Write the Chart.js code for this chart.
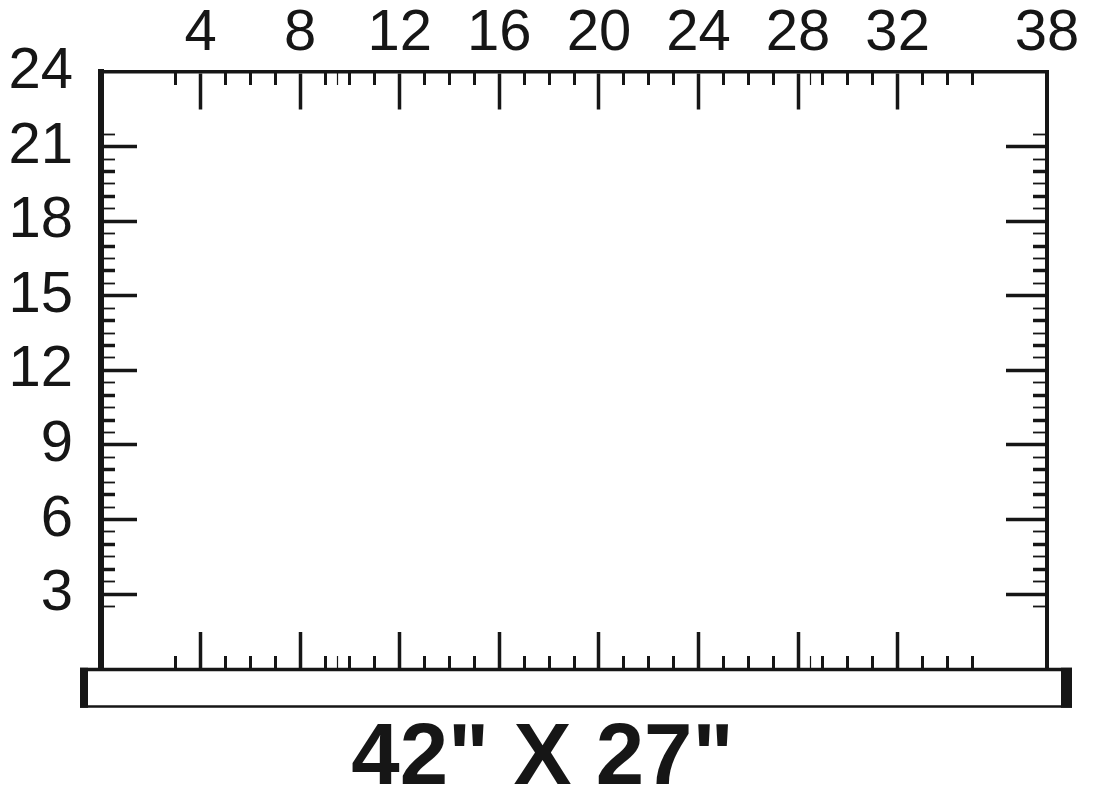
<!DOCTYPE html>
<html>
<head>
<meta charset="utf-8">
<script src="https://cdn.jsdelivr.net/npm/chart.js@4/dist/chart.umd.min.js"></script>
<style>
  html, body { margin: 0; padding: 0; background: #fff; }
</style>
</head>
<body>
<canvas id="frameChart" width="1095" height="793"></canvas>
<script>
// ruler range (inches)
const xMin = 0, xMax = 38;
const yMin = 0, yMax = 24;

// labelled ticks
const xLabelTicks = [4, 8, 12, 16, 20, 24, 28, 32, 38];
const yLabelTicks = [3, 6, 9, 12, 15, 18, 21, 24];

// tick marks
const xMajorTicks = [4, 8, 12, 16, 20, 24, 28, 32];
const xMinorTicks = [3, 5, 6, 7, 9, 9.5, 10, 11, 13, 14, 15, 17, 18, 19, 21, 22, 23,
                     25, 26, 27, 28.5, 29, 30, 31, 33, 34, 35];
const yMajorTicks = [3, 6, 9, 12, 15, 18, 21];
const yMinorTicks = [2.5, 3.5, 4, 4.5, 5, 5.5, 6.5, 7, 7.5, 8, 8.5, 9.5, 10, 10.5, 11, 11.5,
                     12.5, 13, 13.5, 14, 14.5, 15.5, 16, 16.5, 17, 17.5, 18.5, 19, 19.5,
                     20, 20.5, 21.5];

const sizeLabel = '42" X 27"';

const ink = '#161616';
const fontFamily = '"Liberation Sans", Arial, sans-serif';

// a scale that only draws tick marks at the given values
function markScale(axis, values, position, length, width, border) {
    return {
        type: 'linear',
        axis: axis,
        min: axis === 'x' ? xMin : yMin,
        max: axis === 'x' ? xMax : yMax,
        position: position,
        afterBuildTicks: s => { s.ticks = values.map(v => ({ value: v })); },
        ticks: { display: false, autoSkip: false },
        grid: {
            drawOnChartArea: false,
            drawTicks: true,
            tickLength: length,
            tickWidth: width,
            tickColor: ink
        },
        border: border ? { display: true, width: border, color: ink } : { display: false }
    };
}

// integer ticks heavier than the half / odd ones
const minorWidthX = ctx => (ctx.tick && ctx.tick.value % 1 === 0) ? 3 : 1.2;
const minorWidthY = ctx => (ctx.tick && ctx.tick.value % 1 === 0) ? 3.5 : 1.8;

// base plate under the frame
const basePlate = {
    id: 'basePlate',
    afterDraw(chart) {
        const { ctx, chartArea: a } = chart;
        const L = a.left - 21, R = a.right + 25, T = a.bottom - 1, B = a.bottom + 39;
        ctx.save();
        ctx.fillStyle = ink;
        ctx.fillRect(L, T, R - L, 3.5);
        ctx.fillRect(L, B - 2.5, R - L, 2.5);
        ctx.fillRect(L, T, 8, B - T);
        ctx.fillRect(R - 11, T, 11, B - T);
        ctx.restore();
    }
};

const ctx = document.getElementById('frameChart').getContext('2d');
const frameChart = new Chart(ctx, {
    type: 'scatter',
    data: {
        datasets: [
            { data: [], xAxisID: 'x', yAxisID: 'y' }
        ]
    },
    options: {
        responsive: false,
        animation: false,
        layout: {
            padding: { left: 0, top: 0, right: 10, bottom: 0 }
        },
        plugins: {
            legend: { display: false },
            tooltip: { enabled: false },
            title: {
                display: true,
                position: 'bottom',
                text: sizeLabel,
                color: ink,
                font: { family: fontFamily, size: 87, weight: 'bold', lineHeight: 0.75 },
                padding: { top: 59, bottom: 0 }
            }
        },
        scales: {
            x: {
                type: 'linear',
                min: xMin,
                max: xMax,
                position: 'top',
                afterBuildTicks: s => { s.ticks = xLabelTicks.map(v => ({ value: v })); },
                afterFit: s => { s.height = 72; },
                ticks: {
                    autoSkip: false,
                    maxRotation: 0,
                    padding: 9,
                    color: ink,
                    font: { family: fontFamily, size: 58, lineHeight: 1 }
                },
                grid: { display: false, drawTicks: false },
                border: { display: false }
            },
            y: {
                type: 'linear',
                min: yMin,
                max: yMax,
                position: 'left',
                afterBuildTicks: s => { s.ticks = yLabelTicks.map(v => ({ value: v })); },
                afterFit: s => { s.width = 101; },
                ticks: {
                    autoSkip: false,
                    padding: 28,
                    color: ink,
                    font: { family: fontFamily, size: 58, lineHeight: 1 }
                },
                grid: { display: false, drawTicks: false },
                border: { display: false }
            },
            // empty margin to the right of the frame
            yRightSpace: {
                type: 'linear',
                axis: 'y',
                min: yMin,
                max: yMax,
                position: 'right',
                afterFit: s => { s.width = 38; },
                ticks: { display: false },
                grid: { display: false, drawTicks: false },
                border: { display: false }
            },
            xTopMajor: markScale('x', xMajorTicks, { y: yMax }, 36, 3.5, 3.5),
            xTopMinor: markScale('x', xMinorTicks, { y: yMax }, 13, minorWidthX),
            xBottomMajor: markScale('x', xMajorTicks, { y: yMin }, -37, 3.5),
            xBottomMinor: markScale('x', xMinorTicks, { y: yMin }, -13, minorWidthX),
            yLeftMajor: markScale('y', yMajorTicks, { x: xMin }, -39, 3.5, 6),
            yLeftMinor: markScale('y', yMinorTicks, { x: xMin }, -14, minorWidthY),
            yRightMajor: markScale('y', yMajorTicks, { x: xMax }, 39, 3.5, 4),
            yRightMinor: markScale('y', yMinorTicks, { x: xMax }, 14, minorWidthY)
        }
    },
    plugins: [basePlate]
});
</script>
</body>
</html>
